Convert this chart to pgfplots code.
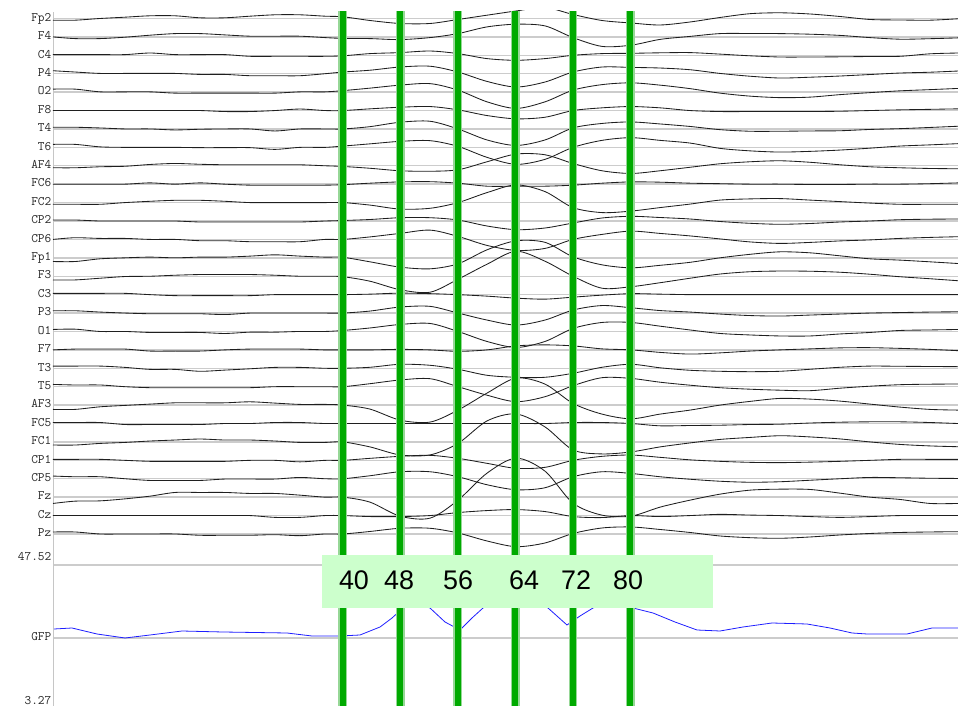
\documentclass[border=0pt]{standalone}
\usepackage{fontspec}
\setmainfont{Liberation Sans}
\usepackage{pgfplots}
\pgfplotsset{compat=1.18}
\definecolor{eegreen}{RGB}{0,170,0}
\definecolor{edgegreen}{RGB}{150,215,150}
\definecolor{boxgreen}{RGB}{204,255,204}
\definecolor{gfpblue}{RGB}{30,30,255}
\pgfplotsset{ch/.style={black!88, line width=0.85bp, smooth, tension=0.5, no markers, y filter/.expression={687.5-18.41*#1-y}}}
\begin{document}
\begin{tikzpicture}
\begin{axis}[
 at={(0,0)}, anchor=south west,
 scale only axis, width=905bp, height=695bp,
 xmin=53, xmax=958, ymin=0, ymax=695,
 axis line style={draw=none},
 xtick=\empty,
 ytick={687.5,669.09,650.68,632.27,613.86,595.45,577.04,558.63,540.22,521.81,503.4,484.99,466.58,448.17,429.76,411.35,392.94,374.53,356.12,337.71,319.3,300.89,282.48,264.07,245.66,227.25,208.84,190.43,172.02,141,68},
 yticklabels={Fp2,F4,C4,P4,O2,F8,T4,T6,AF4,FC6,FC2,CP2,CP6,Fp1,F3,C3,P3,O1,F7,T3,T5,AF3,FC5,FC1,CP1,CP5,Fz,Cz,Pz,{},GFP},
 extra y ticks={148,4.5},
 extra y tick labels={47.52,3.27},
 extra y tick style={grid=none},
 ymajorgrids,
 major grid style={gray!40, line width=1.4bp},
 major tick length=0pt,
 yticklabel style={font=\ttfamily\fontsize{13}{13}\selectfont, text=black!85, anchor=east, inner sep=0pt, xshift=-1.5bp, yshift=1bp, text height=7.5bp, text depth=0pt},
 clip=true,
]
\addplot[gray!45, line width=1bp] coordinates {(53.8,0) (53.8,694)};
\addplot[ch=0] coordinates {(53,1.7)(75,1.7)(100,0)(125,-1.3)(150,-2.7)(175,-2.7)(200,-0.7)(225,-0.7)(250,-2.3)(275,-3.7)(300,-3.7)(325,-2.3)(343,-1.7)(370,2)(400,5)(430,5)(458,1)(487,-3.3)(516,-7.5)(545,-11)(573,-4)(602,2)(631,4.5)(660,6.5)(690,3.5)(720,-1)(750,-4.8)(780,-5.7)(810,-4.5)(840,-2)(870,1)(900,1.5)(930,1.7)(958,0.3)};
\addplot[ch=1] coordinates {(53,0)(75,1.7)(100,1.7)(125,0.3)(150,-1.7)(175,-3.3)(200,-3.3)(225,-2)(250,-0.7)(275,-0.7)(300,-0.7)(325,0.7)(343,1.5)(370,1.7)(400,2.7)(430,0.7)(458,-3.3)(487,-10)(516,-12.7)(545,-11)(573,0.7)(602,9.5)(631,8.3)(660,2.5)(690,-0.5)(720,-3.3)(750,-3.4)(780,-3.3)(810,-2.7)(840,-1.5)(870,0.7)(900,2.3)(930,1.8)(958,1)};
\addplot[ch=2] coordinates {(53,-0.7)(75,-0.7)(100,-0.7)(125,-0.7)(150,-2.3)(175,-0.7)(200,-0.7)(225,-0.7)(250,1)(275,1)(300,1)(325,1)(343,0.5)(370,-1.7)(400,-2.7)(430,-4.3)(458,-1.7)(487,3.3)(516,5)(545,3.3)(573,0)(602,-1.7)(631,-2)(660,-2.5)(690,-2.7)(720,-1.2)(750,0.5)(780,1.7)(810,1.7)(840,1.5)(870,1.2)(900,1)(930,-1.5)(958,-2.3)};
\addplot[ch=3] coordinates {(53,-3)(75,-1.7)(100,-0.3)(125,-0.3)(150,-0.3)(175,-0.3)(200,0.7)(225,0.7)(250,2)(275,2)(300,2)(325,0)(343,-1.7)(370,-3.5)(400,-6.7)(430,-7.5)(458,-1.7)(487,7.7)(516,13.3)(545,8.3)(573,-1.7)(602,-6.7)(631,-6.3)(660,-5.7)(690,-4)(720,-0.3)(750,2.5)(780,4.3)(810,3.5)(840,2.3)(870,0.8)(900,-0.7)(930,-1.5)(958,-2.7)};
\addplot[ch=4] coordinates {(53,-3)(75,-3)(100,-0.3)(125,-0.3)(150,-0.3)(175,1)(200,1)(225,1)(250,1)(275,1)(300,-0.3)(325,-0.3)(343,-1.5)(370,-4)(400,-7)(430,-8.5)(458,-2)(487,9.7)(516,16.3)(545,9.7)(573,-2)(602,-7.5)(631,-9.3)(660,-7)(690,-3.5)(720,1)(750,4)(780,5.5)(810,5)(840,2.5)(870,0.5)(900,-1.3)(930,-2.5)(958,-3.7)};
\addplot[ch=5] coordinates {(53,0)(75,0)(100,0)(125,0)(150,0)(175,0)(200,0)(225,1)(250,1)(275,0)(300,-1.5)(325,0)(343,0)(370,-1.7)(400,-3.3)(430,-4)(458,-0.7)(487,5)(516,8.3)(545,6.7)(573,0)(602,-2.7)(631,-4)(660,-2.7)(690,0)(720,1)(750,1)(780,1)(810,1)(840,0.7)(870,0)(900,-0.7)(930,-1.2)(958,-1.7)};
\addplot[ch=6] coordinates {(53,-1.7)(75,-1.7)(100,-1)(125,0)(150,0)(175,1)(200,0.3)(225,0)(250,0)(275,2)(300,0)(325,0)(343,0)(370,-2.3)(400,-6.7)(430,-7.7)(458,0)(487,11)(516,16.5)(545,11)(573,-1)(602,-5.5)(631,-7)(660,-5)(690,-2.5)(720,0.7)(750,2.3)(780,2.3)(810,2)(840,1.8)(870,0.5)(900,-0.3)(930,-1.5)(958,-2.7)};
\addplot[ch=7] coordinates {(53,-3)(75,-3)(100,-0.5)(125,0)(150,0)(175,0)(200,0.3)(225,0.3)(250,0.3)(275,2)(300,0)(325,0)(343,-1.3)(370,-3.5)(400,-6)(430,-6.7)(458,-1)(487,10)(516,17)(545,12)(573,0)(602,-7)(631,-9.7)(660,-7)(690,-4.3)(720,1)(750,3.5)(780,4.7)(810,4)(840,2.7)(870,0.8)(900,-1.3)(930,-2.5)(958,-3.7)};
\addplot[ch=8] coordinates {(53,2)(75,2)(100,1)(125,0.5)(150,-1.3)(175,-2.3)(200,-1.5)(225,-1)(250,-1)(275,-1)(300,-1)(325,0)(343,0.7)(370,2.5)(400,5)(430,5.5)(458,4)(487,-4)(516,-11.7)(545,-11)(573,-2.3)(602,5)(631,7.7)(660,5)(690,1.5)(720,-2)(750,-4)(780,-5)(810,-3.5)(840,-1)(870,1)(900,2)(930,2.7)(958,3)};
\addplot[ch=9] coordinates {(53,0)(75,0)(100,0)(125,0)(150,-1.3)(175,0)(200,-1.3)(225,0)(250,1)(275,1)(300,1)(325,1)(343,0.5)(370,-1)(400,-2.3)(430,-2.5)(458,-1)(487,2)(516,2)(545,2)(573,1)(602,-1)(631,-2.3)(660,-2)(690,-1)(720,-0.5)(750,0)(780,0)(810,0.3)(840,0.3)(870,0)(900,0)(930,-0.5)(958,-1.3)};
\addplot[ch=10] coordinates {(53,1.7)(75,1.7)(100,1.7)(125,0)(150,-1.3)(175,-2.3)(200,-2.3)(225,-1.3)(250,0)(275,0)(300,0)(325,0)(343,0)(370,2.5)(400,6.5)(430,5.7)(458,0)(487,-10)(516,-17.7)(545,-11)(573,5)(602,10)(631,8.5)(660,5)(690,1.5)(720,-2.5)(750,-3.7)(780,-4)(810,-2.5)(840,-1)(870,0.5)(900,1.7)(930,1.7)(958,1.7)};
\addplot[ch=11] coordinates {(53,-1)(75,-1)(100,0)(125,0)(150,0)(175,0)(200,1)(225,1)(250,1)(275,1)(300,1)(325,0)(343,-0.5)(370,-1.5)(400,-3.3)(430,-3.3)(458,-1)(487,5)(516,8.7)(545,7)(573,2)(602,-3)(631,-4.7)(660,-3.5)(690,-2)(720,0.5)(750,2.3)(780,3.3)(810,2.5)(840,1)(870,0)(900,-1.3)(930,-1.8)(958,-2)};
\addplot[ch=12] coordinates {(53,0)(75,-1.7)(100,-1)(125,-1)(150,0)(175,0)(200,1.3)(225,1.3)(250,2.3)(275,2.3)(300,2.3)(325,0)(343,0)(370,-2.5)(400,-6)(430,-9.3)(458,-3)(487,6)(516,11)(545,9)(573,0)(602,-5)(631,-8.3)(660,-6)(690,-3.5)(720,-0.5)(750,2.5)(780,4)(810,3)(840,1.5)(870,0.5)(900,-1)(930,-2)(958,-2.7)};
\addplot[ch=13] coordinates {(53,3.7)(75,3.7)(100,1)(125,0)(150,-0.7)(175,0)(200,-0.7)(225,-0.7)(250,-1.7)(275,-3)(300,-1.7)(325,-0.7)(343,-0.5)(370,4)(400,9.3)(430,11)(458,6)(487,-8)(516,-17)(545,-15.5)(573,-1)(602,7)(631,10)(660,7.5)(690,4.5)(720,0)(750,-3.5)(780,-6)(810,-5)(840,-2)(870,1)(900,2.3)(930,4)(958,5.7)};
\addplot[ch=14] coordinates {(53,3.7)(75,3.7)(100,2)(125,0.3)(150,0)(175,-1)(200,-1.7)(225,-1.7)(250,-1.7)(275,-1)(300,0)(325,0)(343,0.5)(370,5)(400,13.5)(430,16)(458,3)(487,-12)(516,-25)(545,-15)(573,0)(602,12)(631,10.5)(660,6.5)(690,2)(720,-2.2)(750,-4.5)(780,-5.2)(810,-5)(840,-4)(870,-2)(900,0.5)(930,2.5)(958,4.5)};
\addplot[ch=15] coordinates {(53,-1.3)(75,-1.3)(100,-1.3)(125,-1.3)(150,0)(175,1)(200,1)(225,1)(250,1)(275,0)(300,0)(325,0)(343,0)(370,-0.5)(400,-1.5)(430,-1)(458,0)(487,1.5)(516,3.5)(545,4.5)(573,2.5)(602,0.5)(631,-1)(660,-0.5)(690,0)(720,0)(750,0)(780,0)(810,0)(840,0)(870,0)(900,0)(930,0)(958,0)};
\addplot[ch=16] coordinates {(53,-2.3)(75,-2.3)(100,-1)(125,0)(150,0.7)(175,0.7)(200,0.7)(225,1.5)(250,0)(275,0)(300,0)(325,0)(343,0)(370,-2)(400,-6)(430,-6.7)(458,0)(487,7)(516,12)(545,7)(573,-3)(602,-7.5)(631,-5.3)(660,-2.5)(690,-1)(720,1)(750,2.5)(780,3)(810,2)(840,1)(870,0)(900,-0.5)(930,-1)(958,-1.3)};
\addplot[ch=17] coordinates {(53,-2)(75,-2.3)(100,0)(125,0)(150,1)(175,1)(200,1)(225,2)(250,0.7)(275,0.7)(300,0)(325,0)(343,-1)(370,-3.5)(400,-7)(430,-8)(458,0)(487,10)(516,16)(545,10)(573,-3)(602,-9)(631,-9)(660,-5.3)(690,-1.5)(720,2)(750,3.5)(780,4.5)(810,4.5)(840,2.5)(870,1)(900,-1)(930,-1.5)(958,-2)};
\addplot[ch=18] coordinates {(53,0)(75,-0.8)(100,-0.8)(125,-0.8)(150,1.2)(175,1.2)(200,1.2)(225,0)(250,-0.8)(275,-0.8)(300,-0.8)(325,0)(343,0)(370,0)(400,-0.5)(430,0)(458,1.5)(487,0)(516,-4)(545,-5)(573,-4)(602,-1)(631,0)(660,2.5)(690,4.2)(720,3)(750,1.2)(780,0)(810,-1)(840,-2)(870,-2.2)(900,-1.5)(930,-0.5)(958,0.8)};
\addplot[ch=19] coordinates {(53,-2.2)(75,-2.2)(100,-2.2)(125,-0.9)(150,1.1)(175,1.1)(200,3)(225,1.8)(250,0.5)(275,-0.9)(300,-0.9)(325,0)(343,0)(370,-1)(400,-4)(430,-3)(458,1)(487,7)(516,9)(545,9)(573,5)(602,-1)(631,-4)(660,-0.5)(690,2)(720,3)(750,3.4)(780,3)(810,1)(840,-1)(870,-2.2)(900,-2)(930,-1.8)(958,-1.6)};
\addplot[ch=20] coordinates {(53,-2.3)(75,-1.7)(100,-1.7)(125,0)(150,1)(175,1)(200,1)(225,1)(250,1)(275,0)(300,0)(325,0)(343,0)(370,-3)(400,-6.7)(430,-8)(458,0)(487,8.5)(516,15)(545,10)(573,-1)(602,-9)(631,-8.3)(660,-4.5)(690,-1.5)(720,1)(750,2.5)(780,3.5)(810,4)(840,1.5)(870,-0.5)(900,-2)(930,-2.5)(958,-2.7)};
\addplot[ch=21] coordinates {(53,4.3)(75,4.3)(100,1.7)(125,0.3)(150,-1)(175,-2.3)(200,-2.3)(225,-2.3)(250,-3.3)(275,-2)(300,-0.7)(325,-0.7)(343,0)(370,4)(400,15)(430,17)(458,5)(487,-12)(516,-27)(545,-21)(573,-1.7)(602,9)(631,13.7)(660,9)(690,5)(720,0)(750,-3.7)(780,-6.7)(810,-6)(840,-4)(870,-1)(900,2)(930,4.3)(958,5)};
\addplot[ch=22] coordinates {(53,-1)(75,-1)(100,-1)(125,1)(150,1)(175,1)(200,1)(225,0)(250,0)(275,-1)(300,-1)(325,0)(343,0)(370,0)(400,0)(430,0)(458,0)(487,0)(516,0)(545,0)(573,-1)(602,-1)(631,0)(660,2.3)(690,2)(720,1.7)(750,1)(780,0.7)(810,-0.5)(840,-1.3)(870,-1.7)(900,-1.7)(930,-1)(958,0)};
\addplot[ch=23] coordinates {(53,3.1)(75,3.1)(100,1.5)(125,0.5)(150,-0.9)(175,-1.9)(200,-2.9)(225,-1.9)(250,-1.9)(275,-0.9)(300,0.5)(325,0.5)(343,0)(370,5)(400,13)(430,13)(458,1.5)(487,-21)(516,-28)(545,-15)(573,8)(602,12)(631,10)(660,5)(690,1)(720,-2.5)(750,-4.5)(780,-6.2)(810,-5)(840,-3)(870,0)(900,2.5)(930,4)(958,4.8)};
\addplot[ch=24] coordinates {(53,-1)(75,-1)(100,-1)(125,0)(150,1)(175,1)(200,1)(225,1)(250,0)(275,0)(300,1.5)(325,0)(343,0)(370,-2)(400,-4)(430,-5)(458,-2)(487,3)(516,8)(545,7)(573,0)(602,-4)(631,-5.3)(660,-3)(690,-0.5)(720,1)(750,2)(780,2.3)(810,1.8)(840,1)(870,0)(900,-1)(930,-1)(958,-1)};
\addplot[ch=25] coordinates {(53,-2.7)(75,-2)(100,-2)(125,0)(150,1.7)(175,1.7)(200,1.7)(225,0.3)(250,0.3)(275,0.3)(300,-1.3)(325,0)(343,0)(370,-3)(400,-7)(430,-7)(458,-2)(487,6)(516,11)(545,9)(573,-2)(602,-7)(631,-5.3)(660,-2)(690,0.5)(720,2.5)(750,3.5)(780,3)(810,1.5)(840,0)(870,-1.3)(900,-1)(930,-0.5)(958,-0.3)};
\addplot[ch=26] coordinates {(53,6.3)(75,4)(100,3.7)(125,1.7)(150,-1)(175,-4.7)(200,-4.7)(225,-4.7)(250,-3.7)(275,-3.7)(300,-2)(325,0)(343,0)(370,5)(400,19)(430,21)(458,3)(487,-24)(516,-39)(545,-26)(573,6)(602,18)(631,19)(660,10)(690,3)(720,-3)(750,-7)(780,-8)(810,-7.7)(840,-4)(870,0)(900,2.3)(930,6.3)(958,6.3)};
\addplot[ch=27] coordinates {(53,0)(75,0)(100,0)(125,0)(150,0)(175,0)(200,0)(225,0)(250,0)(275,1.8)(300,1.8)(325,0)(343,0)(370,1)(400,1)(430,0)(458,-3)(487,-5)(516,-6)(545,-4)(573,1)(602,2)(631,0)(660,1)(690,0)(720,-1.2)(750,-0.5)(780,0)(810,1)(840,1.8)(870,1)(900,0)(930,0)(958,0)};
\addplot[ch=28] coordinates {(53,-2)(75,-2)(100,0)(125,0)(150,0)(175,0)(200,1.3)(225,1.3)(250,1.3)(275,0.7)(300,1.7)(325,0)(343,0)(370,-2.5)(400,-5.7)(430,-5.7)(458,-1)(487,7)(516,12.7)(545,9)(573,-0.5)(602,-6)(631,-7)(660,-4.5)(690,-1.5)(720,2)(750,3.7)(780,4.3)(810,3)(840,1)(870,-0.5)(900,-1.5)(930,-2)(958,-2.3)};
\addplot[gfpblue, line width=0.8bp, no markers] coordinates {(54,77)(72,78)(97,72)(125,68)(150,71)(182,75)(223,74)(287,73)(312,70)(340,70)(360,71)(380,79)(392,88)(403,98)(416,104)(430,98)(445,84)(460,76)(472,88)(483,98)(500,112)(530,112)(548,98)(567,81)(580,90)(593,98)(612,106)(633,98)(653,93)(675,84)(697,76)(720,75)(743,79)(772,83)(807,82)(830,78)(852,73)(867,72)(907,72)(932,78)(958,78)};
\pgfplotsinvokeforeach{342.5,400.3,457.7,515.3,573,630.3}{
 \addplot[edgegreen, line width=8.5bp, no markers] coordinates {(#1,0) (#1,695)};
 \addplot[eegreen, line width=6bp, no markers] coordinates {(#1,0) (#1,695)};
}
\fill[boxgreen] (axis cs:321.7,98.3) rectangle (axis cs:713,151);
\begin{scope}[every node/.style={font=\fontsize{27}{27}\selectfont, inner sep=0pt}]
\node at (axis cs:354,126) {40};
\node at (axis cs:399,126) {48};
\node at (axis cs:458,126) {56};
\node at (axis cs:524,126) {64};
\node at (axis cs:576,126) {72};
\node at (axis cs:628,126) {80};
\end{scope}
\end{axis}
\pgfresetboundingbox
\useasboundingbox (-53bp,0) rectangle (905bp,706bp);
\end{tikzpicture}
\end{document}
